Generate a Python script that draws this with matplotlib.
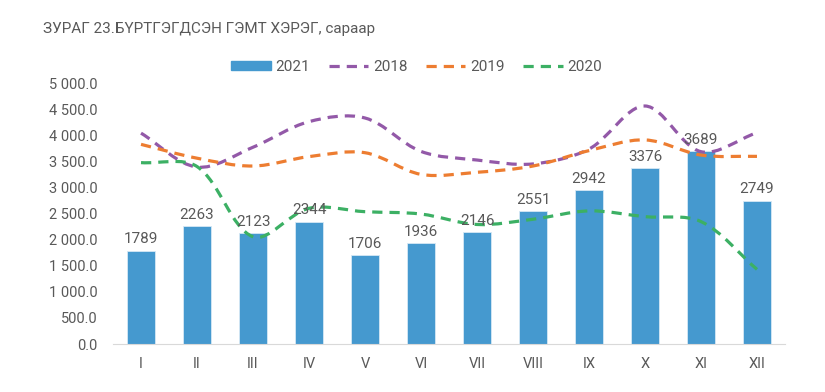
import numpy as np
import matplotlib.pyplot as plt
from matplotlib.path import Path
from matplotlib.patches import PathPatch, Patch
from matplotlib.lines import Line2D
from matplotlib.ticker import FuncFormatter

plt.rcParams['font.family'] = ['Roboto', 'DejaVu Sans']

months = ["I", "II", "III", "IV", "V", "VI", "VII", "VIII", "IX", "X", "XI", "XII"]
y2021 = [1789, 2263, 2123, 2344, 1706, 1936, 2146, 2551, 2942, 3376, 3689, 2749]
y2018 = [4040, 3390, 3770, 4260, 4330, 3690, 3525, 3450, 3735, 4560, 3685, 4050]
y2019 = [3825, 3560, 3410, 3590, 3665, 3250, 3290, 3410, 3705, 3910, 3620, 3595]
y2020 = [3475, 3400, 2055, 2600, 2535, 2490, 2290, 2390, 2550, 2440, 2345, 1430]

c_bar = "#4599cf"
c18 = "#9359a8"
c19 = "#ed7d31"
c20 = "#3cb064"
txt = "#595959"
dash = (0, (3.2, 2.2))

def smooth_path(ax, x, y):  # courbe lissee facon Excel, tangentes ponderees par distance en pixels
    P = ax.transData.transform(np.column_stack([x, y]))
    n = len(P)
    verts = [tuple(P[0])]
    codes = [Path.MOVETO]
    for i in range(n - 1):
        p0, p1, p2, p3 = P[max(i-1, 0)], P[i], P[i+1], P[min(i+2, n-1)]
        d01 = np.hypot(*(p1 - p0))
        d12 = np.hypot(*(p2 - p1))
        d23 = np.hypot(*(p3 - p2))
        c1 = p1 + (p2 - p0) * d12 / (d01 + d12) / 3
        c2 = p2 - (p3 - p1) * d12 / (d12 + d23) / 3
        verts += [tuple(c1), tuple(c2), tuple(p2)]
        codes += [Path.CURVE4]*3
    return Path(ax.transData.inverted().transform(verts), codes)

fig = plt.figure(figsize=(8.25, 3.92), dpi=100)
ax = fig.add_axes([0.137, 0.1224, 0.8145, 0.6658])

x = np.arange(len(months))
ax.bar(x, y2021, width=0.5, color=c_bar, edgecolor="#d6e8f5", linewidth=0.6, zorder=2)
for xi, v in zip(x, y2021):
    ax.text(xi, v + 80, str(v), ha="center", va="bottom", fontsize=11, color=txt, zorder=5)

ax.set_xlim(-0.5, len(months) - 0.5)
ax.set_ylim(0, 5000)

for ys, c in [(y2018, c18), (y2019, c19), (y2020, c20)]:
    p = PathPatch(smooth_path(ax, x, ys), fill=False, edgecolor=c, linewidth=2.3,
                  linestyle=dash, zorder=3, capstyle="butt")
    ax.add_patch(p)

ax.set_yticks(np.arange(0, 5001, 500))
ax.yaxis.set_major_formatter(FuncFormatter(lambda v, pos: f"{v:,.1f}".replace(",", " ")))
ax.set_xticks(x)
ax.set_xticklabels(months)
ax.tick_params(axis="both", length=0, labelsize=10.5, colors=txt)
ax.tick_params(axis="x", pad=9)
ax.tick_params(axis="y", pad=11)
for s in ["top", "right", "left"]:
    ax.spines[s].set_visible(False)
ax.spines["bottom"].set_color("#d9d9d9")

handles = [Patch(facecolor=c_bar, edgecolor=c_bar),
           Line2D([], [], color=c18, lw=2.3, ls=dash),
           Line2D([], [], color=c19, lw=2.3, ls=dash),
           Line2D([], [], color=c20, lw=2.3, ls=dash)]
leg = fig.legend(handles, ["2021", "2018", "2019", "2020"], loc="center", ncol=4,
                 bbox_to_anchor=(0.505, 0.829), frameon=False, fontsize=11,
                 handlelength=2.6, handleheight=0.55, columnspacing=1.2, handletextpad=0.3)
for t in leg.get_texts():
    t.set_color(txt)

fig.text(0.052, 0.925, "ЗУРАГ 23.БҮРТГЭГДСЭН ГЭМТ ХЭРЭГ, сараар", fontsize=11, color=txt, va="center")

fig.savefig("out.png", dpi=100)
